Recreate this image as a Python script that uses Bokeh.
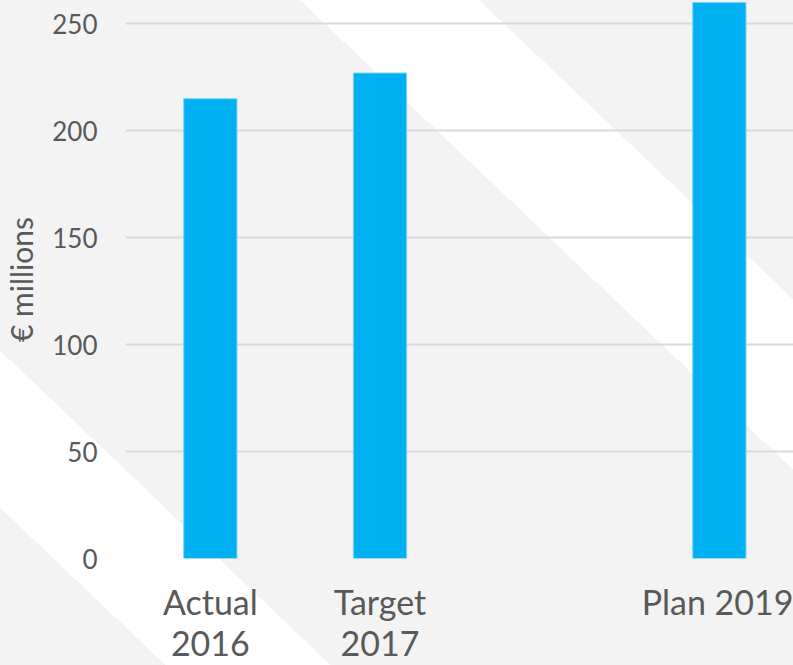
from bokeh.plotting import figure
from bokeh.models import ColumnDataSource, FixedTicker, Range1d
from bokeh.embed import file_html
from bokeh.resources import INLINE

# ---- data ----
categories = ["Actual 2016", "Target 2017", "", "Plan 2019"]
tick_labels = ["Actual\n2016", "Target\n2017", "", "Plan 2019"]
values = [215, 227, None, 260]
y_ticks = [0, 50, 100, 150, 200, 250]

xs = [i for i, v in enumerate(values) if v is not None]
tops = [v for v in values if v is not None]
names = [categories[i] for i in xs]
src = ColumnDataSource(dict(x=xs, top=tops, name=names))

TEXT = "#595959"
BG = "#f3f3f3"
FONT = "Lato"
W, H = 793, 665

# decorative diagonal white bands as a CSS background behind a transparent canvas
import math
nx, ny = 1.0, -1.05
nrm = math.hypot(nx, ny)
s, c = nx / nrm, -ny / nrm
ang = math.degrees(math.atan2(s, c))
L = W * s + H * c
def pos(x0):
    return (x0 - W / 2) * s + (H / 2) * c + L / 2
stops = [f"{BG} 0px"]
for x0, x1 in [(-533, -368), (300, 479)]:
    a, b = pos(x0), pos(x1)
    stops += [f"{BG} {a:.1f}px", f"#ffffff {a:.1f}px", f"#ffffff {b:.1f}px", f"{BG} {b:.1f}px"]
stops.append(f"{BG} {L:.1f}px")
grad = f"linear-gradient({ang:.2f}deg, " + ", ".join(stops) + ")"

p = figure(width=W, height=H, output_backend="svg", toolbar_location=None,
           x_range=Range1d(-0.5, 3.437), y_range=Range1d(0, 260.9),
           min_border_left=125, min_border_right=0, min_border_top=0,
           min_border_bottom=107, styles={"background": grad})
p.background_fill_color = None
p.border_fill_color = None
p.outline_line_color = None

p.vbar(x="x", top="top", width=0.314, source=src, fill_color="#00b0f0",
       line_color="#7ad6f8", line_width=1)

# grid
p.xgrid.grid_line_color = None
p.ygrid.grid_line_color = "#d9d9d9"
p.ygrid.grid_line_width = 2
p.ygrid.ticker = FixedTicker(ticks=y_ticks)

# y axis
p.yaxis.ticker = FixedTicker(ticks=y_ticks)
p.yaxis.axis_line_color = None
p.yaxis.major_tick_line_color = None
p.yaxis.minor_tick_line_color = None
p.yaxis.major_tick_out = 0
p.yaxis.major_tick_in = 0
p.yaxis.minor_tick_out = 0
p.yaxis.minor_tick_in = 0
p.yaxis.major_label_standoff = 28
p.yaxis.major_label_text_font = FONT
p.yaxis.major_label_text_font_size = "26px"
p.yaxis.major_label_text_color = TEXT
p.yaxis.axis_label = "€ millions"
p.yaxis.axis_label_text_font = FONT
p.yaxis.axis_label_text_font_size = "30px"
p.yaxis.axis_label_text_font_style = "normal"
p.yaxis.axis_label_text_color = TEXT
p.yaxis.axis_label_standoff = 10

# x axis
p.xaxis.ticker = FixedTicker(ticks=list(range(len(categories))))
p.xaxis.major_label_overrides = {i: t for i, t in enumerate(tick_labels)}
p.xaxis.axis_line_color = None
p.xaxis.major_tick_line_color = None
p.xaxis.minor_tick_line_color = None
p.xaxis.major_tick_out = 0
p.xaxis.major_tick_in = 0
p.xaxis.minor_tick_out = 0
p.xaxis.minor_tick_in = 0
p.xaxis.major_label_standoff = 22
p.xaxis.major_label_text_font = FONT
p.xaxis.major_label_text_font_size = "34px"
p.xaxis.major_label_text_line_height = 1.0
p.xaxis.major_label_text_color = TEXT

open("out.html", "w").write(file_html(p, INLINE))
